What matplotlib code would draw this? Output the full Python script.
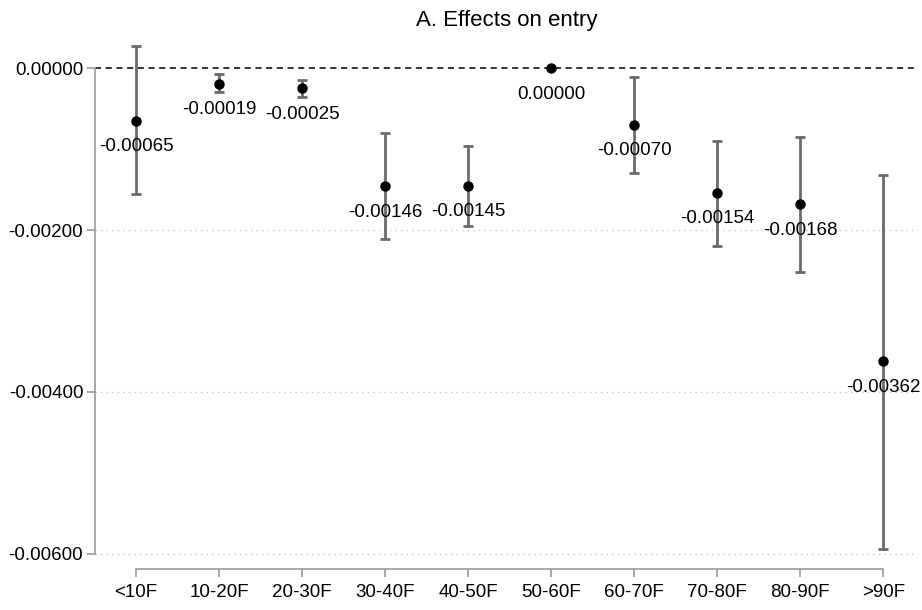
import matplotlib
matplotlib.use('Agg')
import matplotlib.pyplot as plt

plt.rcParams['font.family'] = ['Liberation Sans', 'DejaVu Sans']

cats = ['<10F', '10-20F', '20-30F', '30-40F', '40-50F',
        '50-60F', '60-70F', '70-80F', '80-90F', '>90F']
est = [-0.00065, -0.00019, -0.00025, -0.00146, -0.00145,
       0.0, -0.00070, -0.00154, -0.00168, -0.00362]
ci_hi = [0.00027, -0.00007, -0.00015, -0.00080, -0.00096,
         0.0, -0.00011, -0.00090, -0.00085, -0.00132]
ci_lo = [-0.00156, -0.00030, -0.00035, -0.00211, -0.00195,
         0.0, -0.00130, -0.00220, -0.00252, -0.00594]
yticks = [0.0, -0.002, -0.004, -0.006]
labels = ['%.5f' % v for v in est]

fig = plt.figure(figsize=(9.22, 6.10), dpi=100)
ax = fig.add_axes([0.103, 0.067, 0.893, 0.861])

x = list(range(len(cats)))
for i in x:
    if ci_hi[i] != ci_lo[i]:
        ax.errorbar(i, est[i], yerr=[[est[i] - ci_lo[i]], [ci_hi[i] - est[i]]],
                    fmt='none', ecolor='#6a6a6a', elinewidth=2, capsize=3.8,
                    capthick=2, zorder=2)
ax.plot(x, est, 'o', color='black', markersize=6.5, zorder=3)

for i in x:
    ax.annotate(labels[i], (i, est[i]), xytext=(0, -12.5),
                textcoords='offset points', ha='center', va='top', fontsize=13.5)

for t in yticks[1:]:
    ax.axhline(t, color='#c8c8c8', linestyle=(0, (1, 3)), linewidth=1, zorder=0)
ax.axhline(0, color='black', linestyle=(0, (4, 3)), linewidth=1.1, zorder=1)

ax.set_xlim(-0.494, 9.42)
ax.set_ylim(-0.00619, 0.0003)
ax.set_xticks(x)
ax.set_xticklabels(cats)
ax.set_yticks(yticks)
ax.set_yticklabels(['%.5f' % v for v in yticks])

for s in ['top', 'right']:
    ax.spines[s].set_visible(False)
ax.spines['left'].set_bounds(-0.006, 0)
ax.spines['bottom'].set_bounds(0, 9)
for s in ['left', 'bottom']:
    ax.spines[s].set_color('#a0a0a0')
    ax.spines[s].set_linewidth(1.3)
ax.tick_params(axis='both', color='#a0a0a0', width=1.3, length=6, labelsize=13.5, pad=5)
ax.tick_params(axis='y', pad=2.5)

ax.set_title('A. Effects on entry', fontsize=16, pad=13)

fig.savefig('out.png', dpi=100)
